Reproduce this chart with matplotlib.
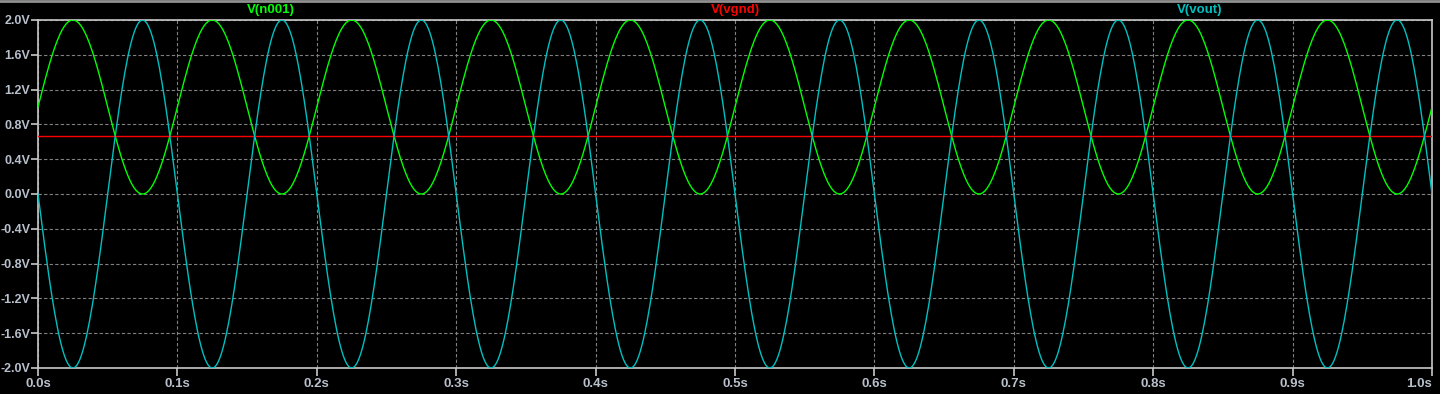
import numpy as np
import matplotlib
matplotlib.use("Agg")
import matplotlib.pyplot as plt

plt.rcParams['font.family'] = ['Liberation Sans', 'DejaVu Sans']

# sine sources from the schematic (offset, amplitude, freq, phase in degrees)
names = ["V(n001)", "V(vgnd)", "V(vout)"]
colors = ["#00ff00", "#ff0000", "#00c0c0"]
offsets = [1.0, 0.667, 0.0]
amplitudes = [1.0, 0.0, 2.0]
freqs = [10.0, 10.0, 10.0]
phases = [0.0, 0.0, 180.0]
t_stop = 1.0
t_step = 0.001

yticks = [-2.0, -1.6, -1.2, -0.8, -0.4, 0.0, 0.4, 0.8, 1.2, 1.6, 2.0]
xticks = [0.0, 0.1, 0.2, 0.3, 0.4, 0.5, 0.6, 0.7, 0.8, 0.9, 1.0]
label_x = [0.167, 0.5, 0.833]

fg = "#c8c8c8"
fig = plt.figure(figsize=(14.4, 3.94), dpi=100, facecolor="black")
ax = fig.add_axes([38/1440, 1-368/394, (1432-38)/1440, (368-20)/394])
ax.set_facecolor("black")

t = np.arange(0, t_stop + t_step/2, t_step)
for name, c, off, amp, f, ph in zip(names, colors, offsets, amplitudes, freqs, phases):
    v = off + amp*np.sin(2*np.pi*f*t + np.radians(ph))
    ax.plot(t, v, color=c, lw=1.0, zorder=3)

ax.set_xlim(0, 1.0)
ax.set_ylim(-2.0, 2.0)
ax.set_xticks(xticks)
ax.set_yticks(yticks)
ax.set_xticklabels([f"{x:.1f}s" for x in xticks])
ax.set_yticklabels([f"{y:.1f}V" for y in yticks])
ax.grid(True, color="#808080", linestyle=(0, (3, 2)), lw=0.8)
for s in ax.spines.values():
    s.set_color(fg)
    s.set_linewidth(1.2)
ax.tick_params(colors=fg, labelcolor="#b8c0cc", labelsize=9.5, length=6, width=1.2, pad=1)
ax.tick_params(axis="y", labelsize=9, length=5, pad=0.5)
for lab in ax.get_xticklabels() + ax.get_yticklabels():
    lab.set_fontweight("bold")
# last x label would run off the right edge
ax.get_xticklabels()[-1].set_horizontalalignment("right")

for name, c, x in zip(names, colors, label_x):
    ax.text(x, 1.0 + 10/348, name, transform=ax.transAxes, color=c, fontsize=9.5,
            fontweight="bold", ha="center", va="center")

# gray window border along the top
fig.add_artist(plt.Line2D([0, 1], [1-1/394, 1-1/394], color="#909090", lw=2, transform=fig.transFigure))

fig.savefig("out.png", dpi=100, facecolor="black")
